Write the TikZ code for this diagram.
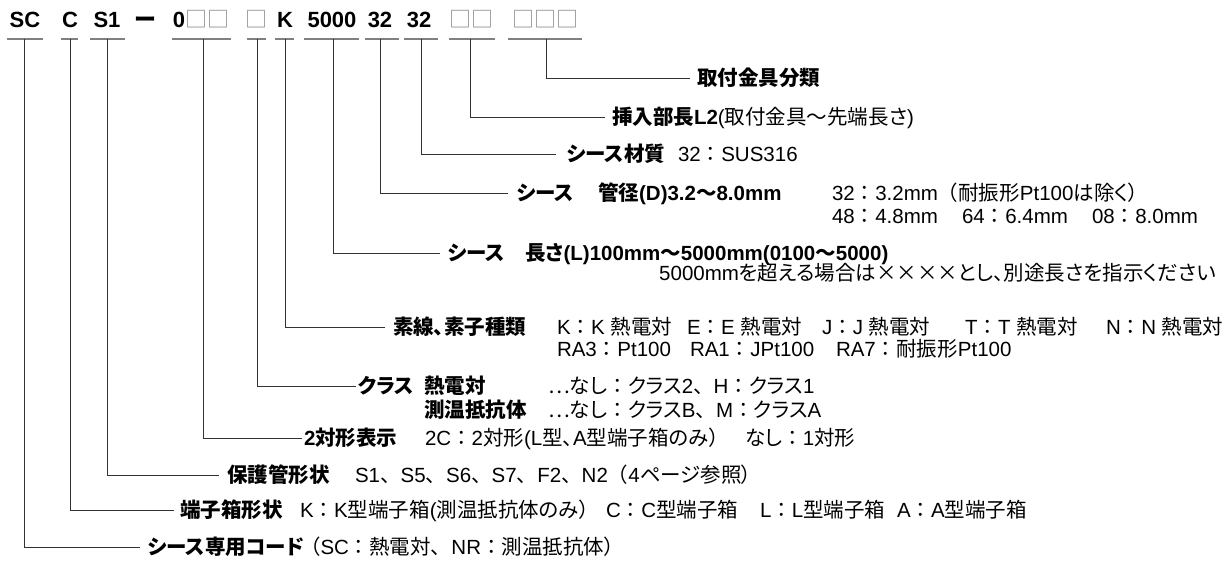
\documentclass[tikz,border=0pt]{standalone}
\usepackage{fontspec}
\setmainfont{Liberation Sans}
\newfontfamily\cjk{Noto Sans CJK JP}[RawFeature=+palt]
\newfontfamily\cjkfix{Noto Sans CJK JP}
\newcommand\J[1]{{\cjk #1}}
\newcommand\Jf[1]{{\cjkfix #1}}
\newcommand\Sq[1]{{\cjkfix\mdseries\color{black!45}#1}}
\begin{document}
\begin{tikzpicture}[x=1pt,y=-1pt,
  code/.style={font=\bfseries\fontsize{22}{24}\selectfont, inner sep=0pt, outer sep=0pt, anchor=base},
  uline/.style={draw=black!50, line width=1.6pt},
  conn/.style={draw=black!80, line width=0.8pt},
  lab/.style={font=\bfseries\fontsize{20.5}{23}\selectfont, inner sep=0pt, outer sep=0pt, anchor=west, text height=15.4pt, text depth=0pt},
  desc/.style={font=\mdseries\fontsize{20.5}{23}\selectfont, inner sep=0pt, outer sep=0pt, anchor=west, text height=15.4pt, text depth=0pt}]
\useasboundingbox (0,0) rectangle (1227,568);
% ---------- header code ----------
\node[code] (hSC) at (25,27) {SC};
\node[code] (hC) at (70,27) {C};
\node[code] (hS1) at (107,27) {S1};
\node[code] (hDash) at (145,27) {\Jf{ー}};
\node[code] (h0) at (201,27) {0\Sq{□□}};
\node[code] (hBox) at (256,27) {\Sq{□}};
\node[code] (hK) at (285,27) {K};
\node[code] (h5000) at (332,27) {5000};
\node[code] (h32a) at (380,27) {32};
\node[code] (h32b) at (419,27) {32};
\node[code] (hB2) at (471,27) {\Sq{□□}};
\node[code] (hB3) at (545,27) {\Sq{□□□}};
% underlines
\foreach \a/\b in {7/43, 61/78, 90/125, 172/231, 247/266, 275/294, 304/359, 365/399, 404/438, 449/495, 508/582}
  \draw[uline] (\a,39) -- (\b,39);
% ---------- labels and descriptions ----------
\node[lab] (l1) at (697,78) {\J{取付金具分類}};
\node[lab] (l2) at (612,117) {\J{挿入部長}L2\mdseries(\J{取付金具〜先端長さ})};
\node[lab] (l3) at (567,154) {\J{シース材質}};
\node[desc] (d3) at (678,154) {32\Jf{：}SUS316};
\node[lab] (l4) at (517,193) {\J{シース}\hspace{24pt}\J{管径}(D)3.2\J{〜}8.0mm};
\node[desc] (d4a) at (832,193) {32\Jf{：}3.2mm\Jf{（}\J{耐振形}Pt100\J{は除く）}};
\node[desc] (d4b) at (832,216) {48\Jf{：}4.8mm};
\node[desc] (d4c) at (962,216) {64\Jf{：}6.4mm};
\node[desc] (d4d) at (1092,216) {08\Jf{：}8.0mm};
\node[lab] (l5) at (448,253) {\J{シース}\hspace{20pt}\J{長さ}(L)100mm\J{〜}5000mm(0100\J{〜}5000)};
\node[desc, anchor=east] (d5) at (1216,273) {5000mm\J{を超える場合は××××とし、別途長さを指示ください}};
\node[lab] (l6) at (393,327) {\J{素線、素子種類}};
\node[desc] (d6a) at (557,327) {K\Jf{：}K \J{熱電対}};
\node[desc] (d6b) at (687,327) {E\Jf{：}E \J{熱電対}};
\node[desc] (d6c) at (822,327) {J\Jf{：}J \J{熱電対}};
\node[desc] (d6d) at (965,327) {T\Jf{：}T \J{熱電対}};
\node[desc] (d6e) at (1106,327) {N\Jf{：}N \J{熱電対}};
\node[desc] (d6f) at (557,349) {RA3\Jf{：}Pt100};
\node[desc] (d6g) at (690,349) {RA1\Jf{：}JPt100};
\node[desc] (d6h) at (836,349) {RA7\Jf{：}\J{耐振形}Pt100};
\node[lab] (l7) at (358,386) {\J{クラス}};
\node[lab] (l7a) at (424,386) {\J{熱電対}};
\node[lab] (l7b) at (424,410) {\J{測温抵抗体}};
\node[desc] (d7a) at (548,386) {\J{…なし}\Jf{：}\J{クラス}2\Jf{、}H\Jf{：}\J{クラス}1};
\node[desc] (d7b) at (548,410) {\J{…なし}\Jf{：}\J{クラス}B\Jf{、}M\Jf{：}\J{クラス}A};
\node[lab] (l8) at (304,438) {2\J{対形表示}};
\node[desc] (d8a) at (425,438) {2C\Jf{：}2\J{対形}(L\J{型、}A\J{型端子箱のみ}\Jf{）}};
\node[desc] (d8b) at (745,438) {\J{なし}\Jf{：}1\J{対形}};
\node[lab] (l9) at (227,475) {\J{保護管形状}};
\node[desc] (d9) at (355,475) {S1\Jf{、}S5\Jf{、}S6\Jf{、}S7\Jf{、}F2\Jf{、}N2\Jf{（}4\J{ページ参照）}};
\node[lab] (l10) at (180,510) {\J{端子箱形状}};
\node[desc] (d10a) at (300,510) {K\Jf{：}K\J{型端子箱}(\J{測温抵抗体のみ}\Jf{）}};
\node[desc] (d10b) at (606,510) {C\Jf{：}C\J{型端子箱}};
\node[desc] (d10c) at (760,510) {L\Jf{：}L\J{型端子箱}};
\node[desc] (d10d) at (897,510) {A\Jf{：}A\J{型端子箱}};
\node[lab] (l11) at (148,547) {\J{シース専用コード}};
\node[desc] (d11) at (300,547) {\Jf{（}SC\Jf{：}\J{熱電対}\Jf{、}NR\Jf{：}\J{測温抵抗体）}};
% ---------- connectors ----------
\coordinate (v1) at (546,39);
\coordinate (v2) at (470,39);
\coordinate (v3) at (421,39);
\coordinate (v4) at (380,39);
\coordinate (v5) at (333,39);
\coordinate (v6) at (285,39);
\coordinate (v7) at (257,39);
\coordinate (v8) at (203,39);
\coordinate (v9) at (107,39);
\coordinate (v10) at (70,39);
\coordinate (v11) at (24,39);
\draw[conn] (v1) |- ([xshift=-7pt]l1.west);
\draw[conn] (v2) |- ([xshift=-7pt]l2.west);
\draw[conn] (v3) |- ([xshift=-11pt]l3.west);
\draw[conn] (v4) |- ([xshift=-9pt]l4.west);
\draw[conn] (v5) |- ([xshift=-8pt]l5.west);
\draw[conn] (v6) |- ([xshift=-8pt]l6.west);
\draw[conn] (v7) |- ([xshift=-2pt]l7.west);
\draw[conn] (v8) |- ([xshift=-2pt]l8.west);
\draw[conn] (v9) |- ([xshift=-8pt]l9.west);
\draw[conn] (v10) |- ([xshift=-6pt]l10.west);
\draw[conn] (v11) |- ([xshift=-8pt]l11.west);
\end{tikzpicture}
\end{document}
